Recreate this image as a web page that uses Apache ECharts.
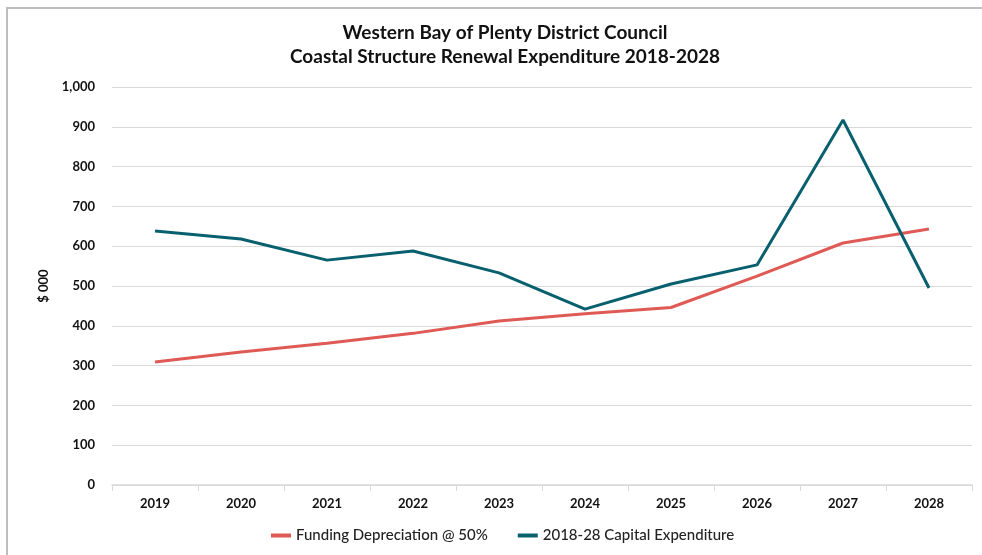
<!DOCTYPE html>
<html>
<head>
    <meta charset="utf-8">
    <title>Coastal Structure Renewal Expenditure</title>
    <script src="https://cdn.jsdelivr.net/npm/echarts@6/dist/echarts.min.js"></script>
    <style>
        body { margin: 0; background: #fff; }
    </style>
</head>
<body>
<div id="main" style="width: 982px;height:555px;"></div>
<script type="text/javascript">
    // data ($000)
    var years = ['2019', '2020', '2021', '2022', '2023', '2024', '2025', '2026', '2027', '2028'];
    var depreciation = [309, 334, 356, 381, 412, 430, 446, 525, 608, 643];
    var capitalExp = [638, 618, 565, 588, 533, 442, 505, 553, 917, 495];
    var seriesNames = ['Funding Depreciation @ 50%', '2018-28 Capital Expenditure'];

    var myChart = echarts.init(document.getElementById('main'));

    var option = {
        animation: false,
        backgroundColor: '#fff',
        title: {
            text: 'Western Bay of Plenty District Council\nCoastal Structure Renewal Expenditure 2018-2028',
            left: 500,
            top: 16,
            textAlign: 'center',
            textStyle: {
                fontFamily: 'Lato',
                fontWeight: 'bold',
                fontSize: 19,
                lineHeight: 24,
                color: '#111'
            }
        },
        graphic: [{
            type: 'rect',
            shape: { x: 7, y: 8, width: 1000, height: 600 },
            style: { fill: 'none', stroke: '#bdbdbd', lineWidth: 2 },
            silent: true
        }],
        legend: {
            data: seriesNames,
            bottom: 7,
            left: 266,
            itemWidth: 20,
            itemHeight: 4,
            itemGap: 30,
            icon: 'rect',
            textStyle: {
                fontFamily: 'Lato',
                fontWeight: 500,
                fontSize: 15,
                color: '#222'
            }
        },
        grid: {
            left: 112,
            right: 10,
            top: 87,
            bottom: 70
        },
        xAxis: {
            type: 'category',
            data: years,
            boundaryGap: true,
            axisLine: { lineStyle: { color: '#d9d9d9', width: 1.5 } },
            axisTick: { show: true, length: 6, lineStyle: { color: '#d9d9d9' } },
            axisLabel: {
                margin: 12,
                fontFamily: 'Lato',
                fontWeight: 'bold',
                fontSize: 13,
                color: '#111'
            }
        },
        yAxis: {
            type: 'value',
            min: 0,
            max: 1000,
            interval: 100,
            name: '$ 000',
            nameLocation: 'middle',
            nameGap: 62,
            nameRotate: 90,
            nameTextStyle: {
                fontFamily: 'Lato',
                fontWeight: 'bold',
                fontSize: 13,
                color: '#111'
            },
            axisLine: { show: false },
            axisTick: { show: false },
            axisLabel: {
                margin: 17,
                fontFamily: 'Lato',
                fontWeight: 'bold',
                fontSize: 13,
                color: '#111',
                formatter: function (v) { return v.toLocaleString('en-US'); }
            },
            splitLine: { lineStyle: { color: '#d9d9d9', width: 1 } }
        },
        series: [
            {
                name: seriesNames[0],
                type: 'line',
                data: depreciation,
                symbol: 'none',
                color: '#df5a55',
                lineStyle: { width: 3, color: '#df5a55' }
            },
            {
                name: seriesNames[1],
                type: 'line',
                data: capitalExp,
                symbol: 'none',
                color: '#08606f',
                lineStyle: { width: 3, color: '#08606f' }
            }
        ]
    };
    myChart.setOption(option);
</script>
</body>
</html>
